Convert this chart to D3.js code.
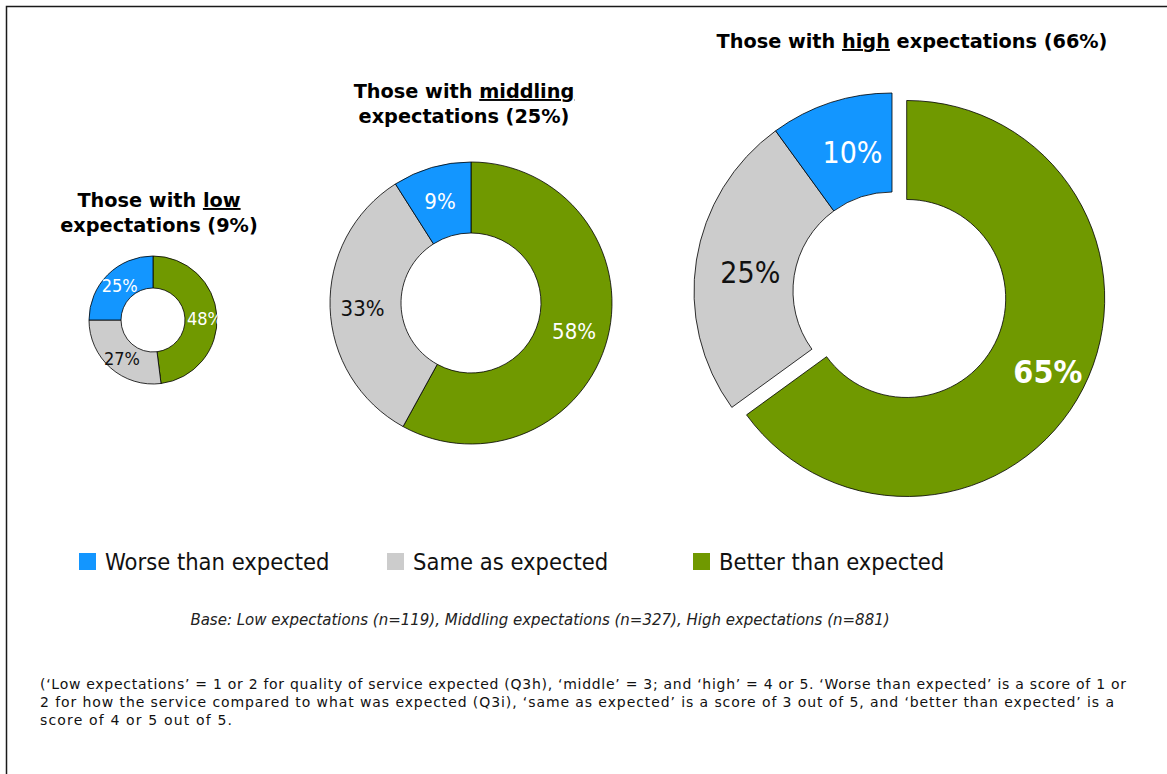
<!DOCTYPE html>
<html>
<head>
<meta charset="utf-8">
<script src="https://cdn.jsdelivr.net/npm/d3@7"></script>
<style>
  html, body { margin: 0; padding: 0; background: #fff; }
  svg { display: block; }
  .cond { font-family: 'DejaVu Sans Condensed', 'DejaVu Sans', sans-serif; font-stretch: condensed; }
  .wide { font-family: 'DejaVu Sans', Verdana, sans-serif; }
</style>
</head>
<body>
<svg id="chart" width="1167" height="774"></svg>
<script>
// Expectation groups and how the service compared with what was expected
const groups = ["low", "middling", "high"];
const groupShares = [9, 25, 66];
const baseN = [119, 327, 881];
const categories = ["Better than expected", "Same as expected", "Worse than expected"];
const better = [48, 58, 65];
const same = [27, 33, 25];
const worse = [25, 9, 10];
const legendOrder = ["Worse than expected", "Same as expected", "Better than expected"];

const colour = d3.scaleOrdinal()
  .domain(categories)
  .range(["#709900", "#cccccc", "#1396ff"]);
const labelColour = d3.scaleOrdinal()
  .domain(categories)
  .range(["#ffffff", "#111111", "#ffffff"]);

// Layout of each ring
const layout = [
  { cx: 153, cy: 320, outer: 64,  inner: 32, font: 18, explode: 0,    shift: [2, 1], title: { x: 159, y: 207, lines: 2 } },
  { cx: 471, cy: 303, outer: 141, inner: 70, font: 22, explode: 0,    shift: [-1, 1], title: { x: 464, y: 98,  lines: 2 } },
  { cx: 892, cy: 291, outer: 198, inner: 99, font: 30, explode: 16.5, shift: [7, 4], title: { x: 912, y: 48,  lines: 1 } }
];

const svg = d3.select("#chart");

// Frame
svg.append("path")
  .attr("d", "M6.5,774 V6.5 H1167")
  .attr("fill", "none")
  .attr("stroke", "#1a1a1a")
  .attr("stroke-width", 1.5);

const pie = d3.pie().sort(null).value(d => d.value).startAngle(0).endAngle(2 * Math.PI);

groups.forEach((g, i) => {
  const L = layout[i];
  const data = [
    { key: categories[0], value: better[i] },
    { key: categories[1], value: same[i] },
    { key: categories[2], value: worse[i] }
  ];
  const arcs = pie(data);
  const arc = d3.arc().innerRadius(L.inner).outerRadius(L.outer);
  const mid = (L.inner + L.outer) / 2 + 2;
  const labelArc = d3.arc().innerRadius(mid).outerRadius(mid);

  const ring = svg.append("g").attr("transform", `translate(${L.cx},${L.cy})`);

  const slice = ring.selectAll("g.slice").data(arcs).join("g")
    .attr("class", "slice")
    .attr("transform", d => {
      if (L.explode && d.data.key === "Better than expected") {
        const a = (d.startAngle + d.endAngle) / 2;
        return `translate(${L.explode * Math.sin(a)},${-L.explode * Math.cos(a)})`;
      }
      return null;
    });

  slice.append("path")
    .attr("d", arc)
    .attr("fill", d => colour(d.data.key))
    .attr("stroke", "#000")
    .attr("stroke-width", 0.8)
    .attr("stroke-linejoin", "miter");

  slice.append("text")
    .attr("class", "cond")
    .attr("transform", d => {
      const [x, y] = labelArc.centroid(d);
      return `translate(${x + L.shift[0]},${y + L.shift[1]})`;
    })
    .attr("text-anchor", "middle")
    .attr("dy", "0.38em")
    .attr("font-size", d => (i === 2 && d.data.key === "Better than expected") ? 32 : L.font)
    .attr("font-weight", d => (i === 2 && d.data.key === "Better than expected") ? "bold" : "normal")
    .attr("fill", d => labelColour(d.data.key))
    .text(d => d.data.value + "%");

  // Group title
  const t = svg.append("text")
    .attr("class", "wide")
    .attr("font-weight", "bold")
    .attr("font-size", 19.3)
    .attr("text-anchor", "middle")
    .attr("fill", "#000");
  const l1 = t.append("tspan").attr("x", L.title.x).attr("y", L.title.y);
  l1.append("tspan").text("Those with ");
  l1.append("tspan").attr("text-decoration", "underline").text(g);
  if (L.title.lines === 2) {
    t.append("tspan").attr("x", L.title.x).attr("y", L.title.y + 25)
      .text(`expectations (${groupShares[i]}%)`);
  } else {
    l1.append("tspan").text(` expectations (${groupShares[i]}%)`);
  }
});

// Legend
const legendX = [79, 387, 693];
const legend = svg.append("g");
legendOrder.forEach((k, i) => {
  legend.append("rect")
    .attr("x", legendX[i]).attr("y", 553)
    .attr("width", 17).attr("height", 17)
    .attr("fill", colour(k));
  legend.append("text")
    .attr("class", "cond")
    .attr("x", legendX[i] + 26).attr("y", 570)
    .attr("font-size", 23.5)
    .attr("fill", "#111")
    .text(k);
});

// Base sizes
svg.append("text")
  .attr("class", "wide")
  .attr("x", 540).attr("y", 625)
  .attr("text-anchor", "middle")
  .attr("font-style", "italic")
  .attr("font-size", 15)
  .attr("fill", "#222")
  .text(`Base: Low expectations (n=${baseN[0]}), Middling expectations (n=${baseN[1]}), High expectations (n=${baseN[2]})`);

// Definitions
const notes = [
  "(‘Low expectations’ = 1 or 2 for quality of service expected (Q3h), ‘middle’ = 3; and ‘high’ = 4 or 5.  ‘Worse than expected’ is a score of 1 or",
  "2 for how the service compared to what was expected (Q3i), ‘same as expected’ is a score of 3 out of 5, and ‘better than expected’ is a",
  "score of 4 or 5 out of 5."
];
const noteWidths = [1086, 1074, 192];
const noteText = svg.append("text")
  .attr("class", "wide")
  .attr("font-size", 14)
  .attr("fill", "#111");
notes.forEach((n, i) => {
  noteText.append("tspan").attr("x", 40).attr("y", 689 + i * 18).text(n)
    .attr("textLength", noteWidths[i]).attr("lengthAdjust", "spacing");
});
</script>
</body>
</html>
